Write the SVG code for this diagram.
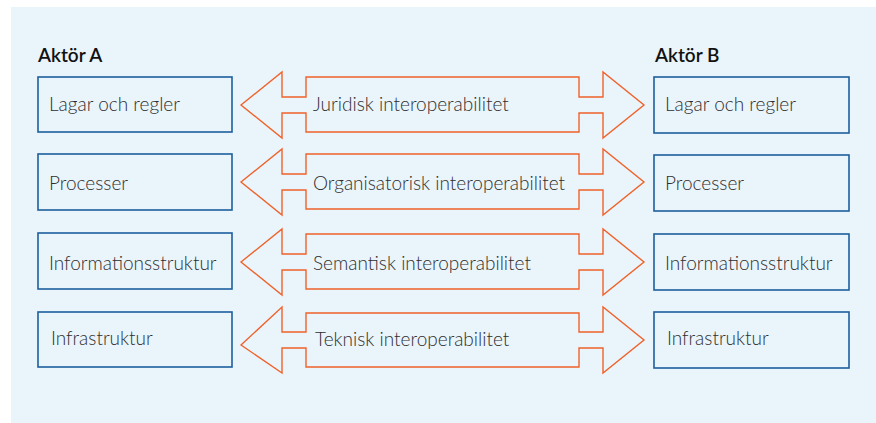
<svg xmlns="http://www.w3.org/2000/svg" width="876" height="423" viewBox="0 0 876 423">
<style>
.bg{fill:#eaf4fb}
.box{fill:#eaf4fb;stroke:#1c5f9f;stroke-width:1.6}
.arr{fill:#eaf4fb;stroke:#f0622a;stroke-width:1.4;stroke-linejoin:miter}
.t{font-family:Lato,"Open Sans",sans-serif;font-size:19px;font-weight:300;fill:#2e2e2e}
.h{font-family:Lato,"Open Sans",sans-serif;font-size:19px;font-weight:600;fill:#111}
</style>
<rect x="0" y="0" width="876" height="423" fill="#ffffff"/>
<rect class="bg" x="11" y="7" width="865" height="416"/>
<text class="h" x="38" y="62">Aktör A</text>
<text class="h" x="655" y="62">Aktör B</text>
<g id="connectors">
<g id="c1"><path class="arr" d="M241,105 L282,72 L282,97 L306,97 L306,77 L579,77 L579,97 L603,97 L603,72 L644,105 L603,138 L603,113 L579,113 L579,132 L306,132 L306,113 L282,113 L282,138 Z"/>
<text class="t" x="313" y="111">Juridisk interoperabilitet</text></g>
<g id="c2"><path class="arr" d="M241,182 L282,149 L282,174 L306,174 L306,154 L579,154 L579,174 L603,174 L603,149 L644,182 L603,215 L603,190 L579,190 L579,209 L306,209 L306,190 L282,190 L282,215 Z"/>
<text class="t" x="313" y="190">Organisatorisk interoperabilitet</text></g>
<g id="c3"><path class="arr" d="M241,262 L282,229 L282,254 L306,254 L306,234 L579,234 L579,254 L603,254 L603,229 L644,262 L603,295 L603,270 L579,270 L579,289 L306,289 L306,270 L282,270 L282,295 Z"/>
<text class="t" x="313" y="270">Semantisk interoperabilitet</text></g>
<g id="c4"><path class="arr" d="M241,345 L282,307 L282,332 L306,332 L306,313 L579,313 L579,332 L603,332 L603,307 L644,340 L603,373 L603,348 L579,348 L579,367 L306,367 L306,348 L282,348 L282,373 Z"/>
<text class="t" x="315" y="346">Teknisk interoperabilitet</text></g>
</g>
<g id="a1"><rect class="box" x="38" y="77" width="194" height="55"/><text class="t" x="49" y="111">Lagar och regler</text></g>
<g id="a2"><rect class="box" x="38" y="154" width="194" height="56"/><text class="t" x="49" y="190">Processer</text></g>
<g id="a3"><rect class="box" x="38" y="233" width="194" height="56"/><text class="t" x="49" y="270">Informationsstruktur</text></g>
<g id="a4"><rect class="box" x="38" y="312" width="194" height="55"/><text class="t" x="51" y="345">Infrastruktur</text></g>
<g id="b1"><rect class="box" x="654" y="77" width="195" height="56"/><text class="t" x="665" y="111">Lagar och regler</text></g>
<g id="b2"><rect class="box" x="654" y="155" width="195" height="56"/><text class="t" x="665" y="190">Processer</text></g>
<g id="b3"><rect class="box" x="654" y="234" width="195" height="56"/><text class="t" x="665" y="270">Informationsstruktur</text></g>
<g id="b4"><rect class="box" x="654" y="312" width="195" height="56"/><text class="t" x="667" y="345">Infrastruktur</text></g>
</svg>
